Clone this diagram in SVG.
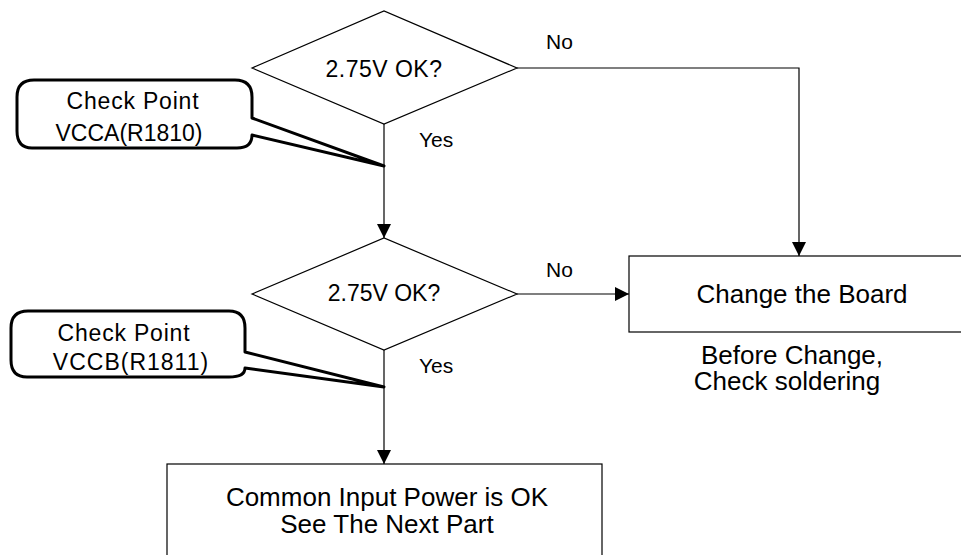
<svg xmlns="http://www.w3.org/2000/svg" width="961" height="555" viewBox="0 0 961 555">
<style>
  text { font-family: "Liberation Sans", Arial, sans-serif; fill: #000; }
  .shape { fill: #fff; stroke: #000; stroke-width: 1.2; }
  .callout { fill: #fff; stroke: #000; stroke-width: 3; stroke-linejoin: round; }
  .conn { fill: none; stroke: #000; stroke-width: 1.2; }
  .t23 { font-size: 23px; text-anchor: middle; }
  .t26 { font-size: 26px; text-anchor: middle; }
  .lbl { font-size: 21px; }
</style>
<defs>
  <marker id="arrow" markerWidth="14" markerHeight="14" refX="14" refY="7" viewBox="0 0 14 14" markerUnits="userSpaceOnUse" orient="auto">
    <path d="M0,0 L14,7 L0,14 Z" fill="#000"/>
  </marker>
</defs>
<rect width="961" height="555" fill="#fff"/>

<g id="connectors">
  <path class="conn" d="M517,68 H799 V256" marker-end="url(#arrow)"/>
  <path class="conn" d="M517,294 H629" marker-end="url(#arrow)"/>
  <path class="conn" d="M384,124 V238" marker-end="url(#arrow)"/>
  <path class="conn" d="M384,350 V464" marker-end="url(#arrow)"/>
  <text class="lbl" x="546" y="49">No</text>
  <text class="lbl" x="546" y="277">No</text>
  <text class="lbl" x="419" y="147">Yes</text>
  <text class="lbl" x="419" y="373">Yes</text>
</g>

<g id="decision1">
  <polygon class="shape" points="252,68 384,11 517,68 384,124"/>
  <text class="t23" x="384" y="77" letter-spacing="0.5">2.75V OK?</text>
</g>

<g id="decision2">
  <polygon class="shape" points="252,294 384,238 517,294 384,350"/>
  <text class="t23" x="384" y="301">2.75V OK?</text>
</g>

<g id="change-board">
  <rect class="shape" x="629" y="256" width="345" height="76"/>
  <text class="t26" x="802" y="303">Change the Board</text>
  <text class="t26" x="792" y="364">Before Change,</text>
  <text class="t26" x="787" y="390">Check soldering</text>
</g>

<g id="common-ok">
  <rect class="shape" x="167" y="464" width="435" height="110"/>
  <text class="t26" x="387" y="506">Common Input Power is OK</text>
  <text class="t26" x="387" y="533">See The Next Part</text>
</g>

<g id="callout1">
  <path class="callout" d="M34,80 H235 Q252,80 252,97 V118 L384,166 L252,135 Q252,148 237,148 H32 Q17,148 17,131 V97 Q17,80 34,80 Z"/>
  <text class="t23" x="133" y="109" letter-spacing="0.8">Check Point</text>
  <text class="t23" x="129" y="141">VCCA(R1810)</text>
</g>

<g id="callout2">
  <path class="callout" d="M28,311 H229 Q245,311 245,328 V352 L384,387 L245,368 Q245,377 229,377 H27 Q11,377 11,360 V328 Q11,311 28,311 Z"/>
  <text class="t23" x="124" y="341" letter-spacing="0.8">Check Point</text>
  <text class="t23" x="131" y="370" letter-spacing="1">VCCB(R1811)</text>
</g>
</svg>
